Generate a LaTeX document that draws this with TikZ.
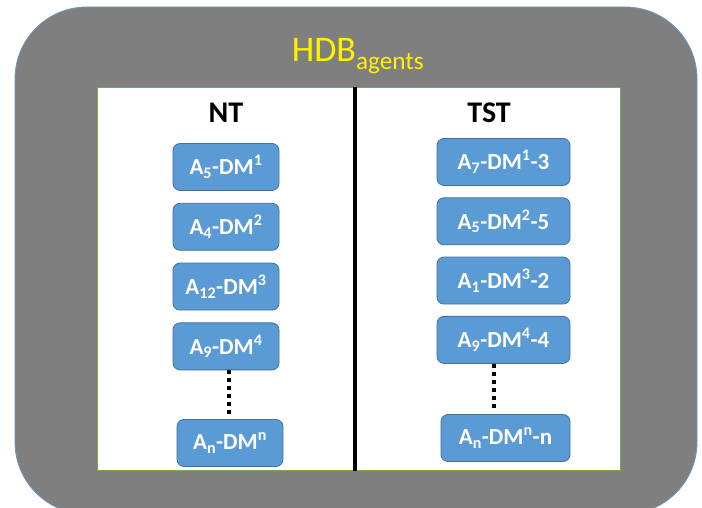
\documentclass[tikz,border=0pt]{standalone}
\usepackage{fontspec}
\setmainfont{Carlito}
\usetikzlibrary{positioning}
\definecolor{boxblue}{HTML}{5B9BD5}
\definecolor{boxedge}{HTML}{41719C}
\definecolor{framegray}{HTML}{7F7F7F}
\definecolor{panelgreen}{HTML}{70AD47}

\begin{document}
\begin{tikzpicture}[x=1pt, y=1pt,
    agent/.style={draw=boxedge, line width=0.8pt, rounded corners=7pt, fill=boxblue, text=white,
        font=\fontsize{23}{26}\selectfont\bfseries, minimum height=47pt, inner sep=0pt},
    head/.style={font=\fontsize{30}{34}\selectfont\bfseries, anchor=base},
    more/.style={line width=4pt, dash pattern=on 4pt off 4pt}]
    \useasboundingbox (0,0) rectangle (702,508);
    % outer frame and white panel
    \filldraw[fill=framegray, draw=boxblue!70!gray, line width=0.8pt, rounded corners=72pt] (15,-6) rectangle (697,501);
    \node[draw=panelgreen, fill=white, line width=1pt, minimum width=523pt, minimum height=383pt, inner sep=0pt] (panel) at (358.5,228.5) {};
    \node[text=yellow, font=\fontsize{36}{40}\selectfont, anchor=base] (title) at (358,446) {HDB\textsubscript{agents}};
    \draw[line width=3.5pt] ([xshift=-3.5pt]panel.north) -- ([xshift=-3.5pt]panel.south);

    % NT column
    \node[head] (nt) at (226,385) {NT};
    \node[agent, minimum width=106pt] (nt1) at (226,341) {A\textsubscript{5}-DM\textsuperscript{1}};
    \node[agent, minimum width=106pt, below=12pt of nt1] (nt2) {A\textsubscript{4}-DM\textsuperscript{2}};
    \node[agent, minimum width=106pt, below=12pt of nt2] (nt3) {A\textsubscript{12}-DM\textsuperscript{3}};
    \node[agent, minimum width=106pt, below=12pt of nt3] (nt4) {A\textsubscript{9}-DM\textsuperscript{4}};
    \node[agent, minimum width=106pt] (ntn) at (230,65) {A\textsubscript{n}-DM\textsuperscript{n}};
    \draw[more, shorten >=3pt] ([xshift=-1pt]ntn.north |- nt4.south) -- ([xshift=-1pt]ntn.north);

    % TST column
    \node[head] (tst) at (489,385) {TST};
    \node[agent, minimum width=133pt] (tst1) at (503.5,346) {A\textsubscript{7}-DM\textsuperscript{1}-3};
    \node[agent, minimum width=133pt, below=11.5pt of tst1] (tst2) {A\textsubscript{5}-DM\textsuperscript{2}-5};
    \node[agent, minimum width=133pt, below=11.5pt of tst2] (tst3) {A\textsubscript{1}-DM\textsuperscript{3}-2};
    \node[agent, minimum width=133pt, below=11.5pt of tst3] (tst4) {A\textsubscript{9}-DM\textsuperscript{4}-4};
    \node[agent, minimum width=129pt] (tstn) at (505.5,70) {A\textsubscript{n}-DM\textsuperscript{n}-n};
    \draw[more, shorten >=3pt] ([xshift=-12pt]tstn.north |- tst4.south) -- ([xshift=-12pt]tstn.north);
\end{tikzpicture}
\end{document}
